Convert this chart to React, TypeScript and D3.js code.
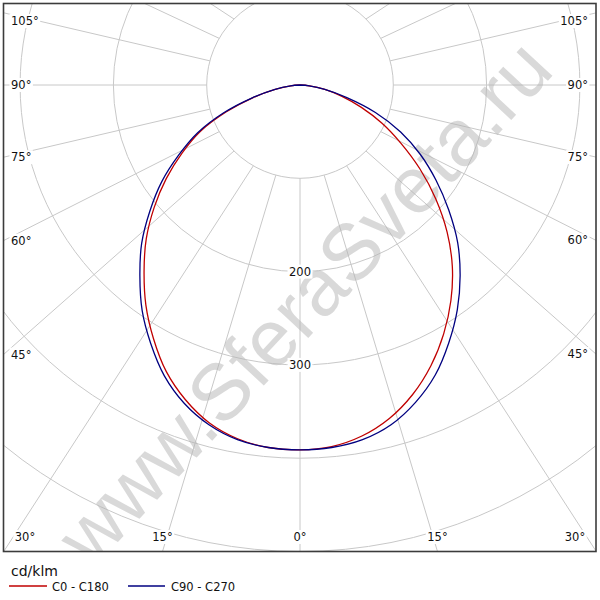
import React, { useEffect, useRef } from 'react';
import * as d3 from 'd3';

// gamma angles (deg from nadir) and luminous intensity in cd/klm for each half plane
const gammaAngles = [0, 5, 10, 15, 20, 25, 30, 35, 40, 45, 50, 55, 60, 65, 70, 75, 80, 85, 90];
const c0 = [391, 389, 382, 370, 353, 332, 308, 282, 254, 223, 190, 157, 125, 97, 70, 46, 27, 10, 0];
const c180 = [391, 390, 385, 375, 359, 339, 314, 288, 260, 233, 204, 175, 146, 118, 84, 52, 27, 10, 0];
const c90 = [391, 390, 386, 377, 362, 343, 319, 294, 267, 239, 208, 178, 149, 119, 86, 52, 27, 10, 0];
const c270 = [391, 390, 386, 377, 363, 344, 320, 295, 267, 240, 210, 181, 150, 121, 87, 53, 28, 10, 0];

const ringValues = [100, 200, 300, 400, 500];
const ringLabels = [200, 300];
const gridAngles = [0, 15, 30, 45, 60, 75, 90, 105, 120, 135, 150, 165, 180];
const angleLabels = [0, 15, 30, 45, 60, 75, 90, 105];
const seriesNames = ['C0 - C180', 'C90 - C270'];
const unitLabel = 'cd/klm';
const watermark = 'www.SferaSveta.ru';

export default function App() {
  const ref = useRef<SVGSVGElement>(null);

  useEffect(() => {
    const svg = d3.select(ref.current);
    svg.selectAll('*').remove();

    const frame = { x: 3.5, y: 3.5, w: 592.5, h: 548 };
    const cx = 300, cy = 85;
    const stretch = 1.1; // the grid rays are a bit wider than the rings in the original
    const r = d3.scaleLinear().domain([0, 500]).range([0, 466.5]);
    const rad = (deg: number) => (deg * Math.PI) / 180;
    const font = '"DejaVu Sans", Verdana, sans-serif';
    const colors = ['#c00000', '#000080'];

    svg.append('rect').attr('width', 600).attr('height', 600).attr('fill', '#fff');

    svg.append('defs').append('clipPath').attr('id', 'frameClip')
      .append('rect')
      .attr('x', frame.x).attr('y', frame.y).attr('width', frame.w).attr('height', frame.h);

    const plot = svg.append('g').attr('clip-path', 'url(#frameClip)');
    const grid = plot.append('g').attr('stroke', '#c8c8c8').attr('fill', 'none').attr('stroke-width', 1);

    grid.selectAll('circle')
      .data(ringValues)
      .enter()
      .append('circle')
      .attr('cx', cx).attr('cy', cy)
      .attr('r', d => r(d));

    // where a ray from the centre hits the frame
    const hitFrame = (deg: number, side: number) => {
      const dx = side * stretch * Math.sin(rad(deg));
      const dy = Math.cos(rad(deg));
      let t = Infinity;
      let edge = '';
      if (dx < -1e-9) { const tt = (frame.x - cx) / dx; if (tt < t) { t = tt; edge = 'left'; } }
      if (dx > 1e-9) { const tt = (frame.x + frame.w - cx) / dx; if (tt < t) { t = tt; edge = 'right'; } }
      if (dy > 1e-9) { const tt = (frame.y + frame.h - cy) / dy; if (tt < t) { t = tt; edge = 'bottom'; } }
      if (dy < -1e-9) { const tt = (frame.y - cy) / dy; if (tt < t) { t = tt; edge = 'top'; } }
      return { x: cx + dx * t, y: cy + dy * t, edge };
    };

    const rays: { a: number; side: number }[] = [];
    gridAngles.forEach(a => {
      rays.push({ a, side: 1 });
      if (a !== 0 && a !== 180) rays.push({ a, side: -1 });
    });

    grid.selectAll('line')
      .data(rays)
      .enter()
      .append('line')
      .attr('x1', d => cx + d.side * r(100) * Math.sin(rad(d.a)))
      .attr('y1', d => cy + r(100) * Math.cos(rad(d.a)))
      .attr('x2', d => hitFrame(d.a, d.side).x)
      .attr('y2', d => hitFrame(d.a, d.side).y);

    // watermark
    plot.append('text')
      .attr('transform', 'translate(304,302) rotate(-47)')
      .attr('text-anchor', 'middle')
      .attr('dominant-baseline', 'central')
      .attr('font-family', '"Liberation Sans", Arial, sans-serif')
      .attr('font-size', 80)
      .attr('fill', '#b4b4b4')
      .attr('fill-opacity', 0.5)
      .text(watermark);

    // labels with white knock-out boxes
    const labelG = plot.append('g')
      .attr('font-family', font)
      .attr('font-size', 11.5)
      .attr('fill', '#111');

    const addLabel = (txt: string, x: number, y: number, anchor: string) => {
      const g = labelG.append('g');
      const bg = g.append('rect').attr('fill', '#fff');
      const t = g.append('text')
        .attr('x', x).attr('y', y)
        .attr('text-anchor', anchor)
        .attr('dominant-baseline', 'central')
        .text(txt);
      const bb = (t.node() as SVGTextElement).getBBox();
      bg.attr('x', bb.x - 1.5).attr('y', bb.y).attr('width', bb.width + 3).attr('height', bb.height);
    };

    angleLabels.forEach(a => {
      [-1, 1].forEach(side => {
        if (a === 0 && side === -1) return;
        const p = hitFrame(a, side);
        const txt = a + '°';
        if (p.edge === 'bottom' || p.y > 530) {
          const x = Math.max(25, Math.min(575, p.x));
          addLabel(txt, x, 537, 'middle');
        } else {
          const y = Math.max(21, p.y);
          if (side < 0) addLabel(txt, 11, y, 'start');
          else addLabel(txt, 588, y, 'end');
        }
      });
    });

    ringLabels.forEach(v => addLabel(String(v), cx, cy + r(v), 'middle'));

    // intensity curves
    const line = d3.lineRadial<[number, number]>()
      .angle(d => d[0])
      .radius(d => r(d[1]))
      .curve(d3.curveCatmullRom);

    const buildPoints = (leftHalf: number[], rightHalf: number[]) => {
      const pts: [number, number][] = [];
      for (let i = gammaAngles.length - 1; i >= 0; i--) pts.push([Math.PI + rad(gammaAngles[i]), leftHalf[i]]);
      for (let i = 1; i < gammaAngles.length; i++) pts.push([Math.PI - rad(gammaAngles[i]), rightHalf[i]]);
      return pts;
    };

    const curves = plot.append('g').attr('transform', `translate(${cx},${cy})`).attr('fill', 'none');
    curves.append('path')
      .attr('d', line(buildPoints(c180, c0)))
      .attr('stroke', colors[0])
      .attr('stroke-width', 1.3);
    curves.append('path')
      .attr('d', line(buildPoints(c270, c90)))
      .attr('stroke', colors[1])
      .attr('stroke-width', 1.3);

    // frame
    svg.append('rect')
      .attr('x', frame.x).attr('y', frame.y).attr('width', frame.w).attr('height', frame.h)
      .attr('fill', 'none')
      .attr('stroke', '#3c3c3c')
      .attr('stroke-width', 1.6);

    // legend
    const legend = svg.append('g').attr('font-family', font).attr('fill', '#111');
    legend.append('text').attr('x', 11).attr('y', 575.5).attr('font-size', 14).text(unitLabel);

    const items = [
      { name: seriesNames[0], x1: 9, x2: 47, tx: 52 },
      { name: seriesNames[1], x1: 128, x2: 165, tx: 171 },
    ];
    items.forEach((it, i) => {
      legend.append('line')
        .attr('x1', it.x1).attr('x2', it.x2)
        .attr('y1', 586).attr('y2', 586)
        .attr('stroke', colors[i]).attr('stroke-width', 1.3);
      legend.append('text')
        .attr('x', it.tx).attr('y', 591)
        .attr('font-size', 11.5)
        .text(it.name);
    });
  }, []);

  return (
    <svg
      ref={ref}
      width={600}
      height={600}
      style={{ position: 'absolute', left: 0, top: 0, display: 'block' }}
    />
  );
}
